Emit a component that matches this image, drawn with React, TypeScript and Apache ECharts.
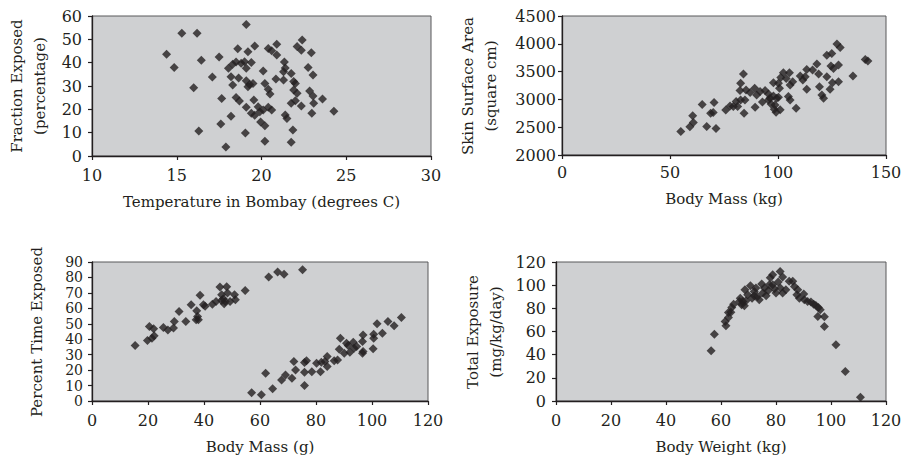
import React, { useEffect, useRef } from "react";
import * as echarts from "echarts";

// Panel 1: Temperature in Bombay (°C) vs Fraction Exposed (%)
const bombayPoints: number[][] = [
  [14.4, 43.6], [14.85, 37.9], [15.3, 52.6], [16.0, 29.3], [16.2, 52.6], [16.3, 10.7], [16.45, 41],
  [17.1, 33.9], [17.5, 42.4], [17.65, 24.6], [17.6, 13.7], [17.9, 3.9], [18.2, 17], [18.05, 37.6],
  [18.2, 34], [18.3, 39.3], [18.5, 40.3], [18.6, 46], [18.65, 33.4], [18.5, 25.1], [18.7, 23.6],
  [18.3, 30.4], [18.8, 39.7], [19.1, 56.4], [19.2, 44.7], [19.0, 40.4], [19.1, 37.6], [19.1, 32.3],
  [19.2, 29.7], [19.1, 20.9], [19.05, 9.9], [19.6, 47.1], [19.4, 40.1], [19.5, 31.1], [19.55, 24],
  [19.4, 18.3], [19.8, 21.1], [19.9, 19], [19.95, 14.6], [20.2, 13], [20.1, 36.4], [20.2, 31.1],
  [20.2, 6.3], [20.1, 19.7], [20.4, 20.9], [20.6, 19.7], [20.4, 46.1], [20.6, 45.1], [20.4, 28.6],
  [20.5, 26.6], [20.9, 43.3], [20.9, 47.9], [20.85, 33], [21.3, 36.1], [21.35, 40.3], [21.4, 37.7],
  [21.3, 32.6], [21.4, 17.6], [21.5, 16.1], [21.75, 35.4], [21.75, 22.6], [21.85, 11.1], [21.75, 5.9],
  [21.9, 31.9], [21.9, 28.3], [22.0, 23.7], [22.1, 46.9], [22.4, 49.7], [22.35, 45.3], [22.35, 21.4],
  [22.1, 26.9], [22.75, 37.9], [22.94, 44.3], [23.04, 34.7], [22.84, 27.9], [23.04, 25.7], [23.08, 22.6],
  [22.97, 18.3], [23.6, 24.4], [24.27, 19.2], [22.0, 31.1], [19.3, 30.6], [19.6, 17.5],
];

// Panel 2: Body Mass (kg) vs Skin Surface Area (cm²)
const skinPoints: number[][] = [
  [55.0, 2424], [59.2, 2507], [60.8, 2585], [60.5, 2704], [64.9, 2907], [67.0, 2513], [68.8, 2752],
  [70.0, 2764], [70.4, 2943], [71.3, 2477], [75.8, 2811], [77.8, 2883], [79.3, 2871], [80.6, 2961],
  [81.3, 2871], [82.7, 2991], [82.4, 3158], [82.7, 3289], [84.0, 3456], [84.3, 2752], [84.7, 2991],
  [85.2, 3170], [87.1, 3122], [89.2, 3199], [89.4, 2859], [90.1, 3080], [91.7, 3140], [92.8, 2955],
  [94.0, 3158], [95.6, 3098], [96.3, 3020], [96.8, 2919], [97.9, 3062], [97.9, 3301], [98.3, 2823],
  [99.1, 2770], [100.2, 3038], [100.7, 3199], [101.0, 2812], [100.2, 3289], [101.3, 3396], [102.5, 3480],
  [103.8, 3378], [104.8, 3050], [105.6, 2991], [105.3, 3480], [105.6, 3259], [106.8, 3319], [108.4, 2841],
  [110.3, 3420], [111.5, 3349], [112.6, 3408], [113.3, 3539], [113.3, 3181], [116.0, 3527], [118.0, 3635],
  [118.8, 3456], [119.2, 3229], [120.3, 3080], [121.1, 3020], [122.6, 3796], [122.6, 3408], [124.1, 3181],
  [124.9, 3826], [124.5, 3599], [125.7, 3557], [125.2, 3301], [127.3, 3995], [128.8, 3935], [128.0, 3617],
  [128.0, 3319], [134.7, 3420], [140.4, 3718], [141.6, 3689], [99.4, 3020], [95.6, 2991], [98.6, 2901],
];

// Panel 3: Body Mass (g) vs Percent Time Exposed
const timePoints: number[][] = [
  [15.4, 35.9], [19.8, 39.2], [20.5, 48.2], [21.4, 40.7], [22.0, 46.7], [22.2, 42.2], [25.5, 47.6],
  [27.1, 45.9], [29.1, 47.2], [29.4, 51.5], [31.1, 58.0], [33.5, 51.5], [35.4, 62.3], [37.4, 58.4],
  [37.2, 52.6], [37.7, 54.7], [38.0, 52.6], [38.6, 68.4], [39.8, 62.3], [40.4, 61.4], [43.0, 62.7],
  [44.3, 64.5], [45.7, 73.8], [46.3, 68.8], [46.9, 66.2], [47.6, 64.5], [48.1, 74.0], [48.4, 69.9],
  [49.3, 64.5], [47.2, 63.0], [50.9, 68.8], [51.2, 65.6], [54.7, 71.6], [46.3, 65.0],
  [63.1, 80.3], [66.3, 83.5], [68.6, 82.0], [75.2, 85.0],
  [57.0, 5.4], [60.5, 4.1], [62.0, 18.0], [64.5, 8.0], [67.7, 13.6], [69.1, 16.9], [71.4, 14.7],
  [72.1, 25.5], [72.7, 20.1], [75.9, 24.9], [75.9, 18.6], [75.9, 10.0], [76.6, 26.0], [78.5, 19.0],
  [80.2, 24.4], [81.6, 19.0], [81.9, 25.1], [83.2, 25.5], [84.0, 28.8], [84.0, 22.3], [86.5, 26.0],
  [87.7, 26.6], [88.3, 33.5], [88.7, 40.7], [90.1, 30.9], [90.9, 37.4], [91.5, 35.9], [92.1, 31.6],
  [93.3, 38.1], [93.6, 34.2], [94.5, 35.3], [96.6, 38.5], [96.8, 42.8], [96.8, 32.0], [96.6, 30.9],
  [100.4, 33.8], [100.6, 43.3], [100.6, 40.7], [101.8, 50.0], [103.7, 43.9], [105.7, 51.5], [107.9, 48.7],
  [110.5, 54.1],
];

// Panel 4: Body Weight (kg) vs Total Exposure (mg/kg/day)
const exposurePoints: number[][] = [
  [56.4, 43.3], [57.6, 57.7], [61.8, 64.9], [61.5, 68.6], [62.7, 72.1], [62.7, 76.4], [63.6, 76.7],
  [63.9, 80.8], [64.6, 83.6], [66.7, 86.0], [67.0, 88.8], [67.5, 83.1], [68.5, 82.2], [69.1, 86.5],
  [68.7, 96.0], [69.7, 91.7], [70.7, 99.5], [71.3, 88.8], [72.1, 94.6], [72.7, 97.5], [73.3, 90.3],
  [73.9, 87.4], [74.8, 101.0], [75.2, 93.2], [75.8, 97.5], [76.4, 90.9], [77.2, 95.5], [77.9, 106.3],
  [78.8, 109.0], [78.8, 100.4], [79.4, 96.9], [80.0, 93.2], [80.8, 102.7], [81.5, 111.9], [82.4, 107.0],
  [81.6, 97.5], [82.4, 93.2], [83.6, 96.0], [84.8, 103.3], [86.1, 103.3], [86.7, 98.9], [87.9, 96.0],
  [87.6, 91.7], [88.5, 88.8], [90.1, 92.3], [90.3, 87.4], [91.5, 86.0], [92.7, 85.4], [93.7, 83.6],
  [94.5, 82.5], [95.4, 80.8], [96.1, 78.7], [95.2, 73.0], [97.6, 72.7], [97.6, 64.3], [101.8, 48.5],
  [105.2, 25.4], [110.7, 3.2], [77.6, 100.4], [72.1, 90.9], [67.9, 86.0],
];

const FONT = "DejaVu Serif";
const TEXT = "#231f20";

const grids = [
  { left: 92, top: 16, width: 339, height: 140 },
  { left: 562, top: 16, width: 324, height: 139 },
  { left: 92, top: 262, width: 336, height: 139 },
  { left: 556, top: 262, width: 330, height: 139 },
];

const xAxes = [
  { name: "Temperature in Bombay (degrees C)", min: 10, max: 30, interval: 5, margin: 11, gap: 38 },
  { name: "Body Mass (kg)", min: 0, max: 150, interval: 50, margin: 9, gap: 36 },
  { name: "Body Mass (g)", min: 0, max: 120, interval: 20, margin: 11, gap: 38 },
  { name: "Body Weight (kg)", min: 0, max: 120, interval: 20, margin: 11, gap: 38 },
];
const yAxes = [
  { min: 0, max: 60, interval: 10, size: 16, margin: 10 },
  { min: 2000, max: 4500, interval: 500, size: 16, margin: 6 },
  { min: 0, max: 90, interval: 10, size: 14, margin: 9 },
  { min: 0, max: 120, interval: 20, size: 16, margin: 10 },
];
const yTitles = [
  { text: "Fraction Exposed\n(percentage)", x: 28, y: 86 },
  { text: "Skin Surface Area\n(square cm)", x: 479, y: 86 },
  { text: "Percent Time Exposed", x: 37, y: 332 },
  { text: "Total Exposure\n(mg/kg/day)", x: 484, y: 332 },
];
const allData = [bombayPoints, skinPoints, timePoints, exposurePoints];

export default function App() {
  const ref = useRef<HTMLDivElement>(null);
  useEffect(() => {
    if (!ref.current) return;
    const chart = echarts.init(ref.current, null, { renderer: "svg" });
    const lineCommon = {
      axisLine: { show: true, onZero: false, lineStyle: { color: TEXT, width: 1.3 } },
      axisTick: { show: true, length: 4, lineStyle: { color: TEXT, width: 1.2 } },
      splitLine: { show: false },
    };
    chart.setOption({
      animation: false,
      backgroundColor: "#ffffff",
      textStyle: { fontFamily: FONT },
      grid: grids.map((g) => ({
        ...g,
        show: true,
        backgroundColor: "#cfd0d2",
        borderColor: "#58595b",
        borderWidth: 1,
        containLabel: false,
      })),
      xAxis: xAxes.map((a, i) => ({
        type: "value",
        gridIndex: i,
        min: a.min,
        max: a.max,
        interval: a.interval,
        name: a.name,
        nameLocation: "middle",
        nameGap: a.gap,
        nameTextStyle: { color: TEXT, fontFamily: FONT, fontSize: 15 },
        ...lineCommon,
        axisLabel: {
          color: TEXT,
          fontFamily: FONT,
          fontSize: 16,
          margin: a.margin,
          formatter: (v: number) => String(v),
        },
      })),
      yAxis: yAxes.map((a, i) => ({
        type: "value",
        gridIndex: i,
        min: a.min,
        max: a.max,
        interval: a.interval,
        ...lineCommon,
        axisLabel: {
          color: TEXT,
          fontFamily: FONT,
          fontSize: a.size,
          lineHeight: a.size,
          margin: a.margin,
          formatter: (v: number) => String(v),
        },
      })),
      graphic: yTitles.map((t) => ({
        type: "text",
        x: t.x,
        y: t.y,
        rotation: Math.PI / 2,
        style: {
          text: t.text,
          fill: TEXT,
          font: `15px "${FONT}"`,
          textAlign: "center",
          textVerticalAlign: "middle",
          lineHeight: 23,
        },
      })),
      series: allData.map((d, i) => ({
        type: "scatter",
        xAxisIndex: i,
        yAxisIndex: i,
        data: d,
        symbol: "diamond",
        symbolSize: 9,
        itemStyle: { color: "#231f20" },
      })),
    });
    return () => chart.dispose();
  }, []);
  return (
    <div
      ref={ref}
      style={{ position: "absolute", left: 0, top: 0, width: 908, height: 458 }}
    />
  );
}
